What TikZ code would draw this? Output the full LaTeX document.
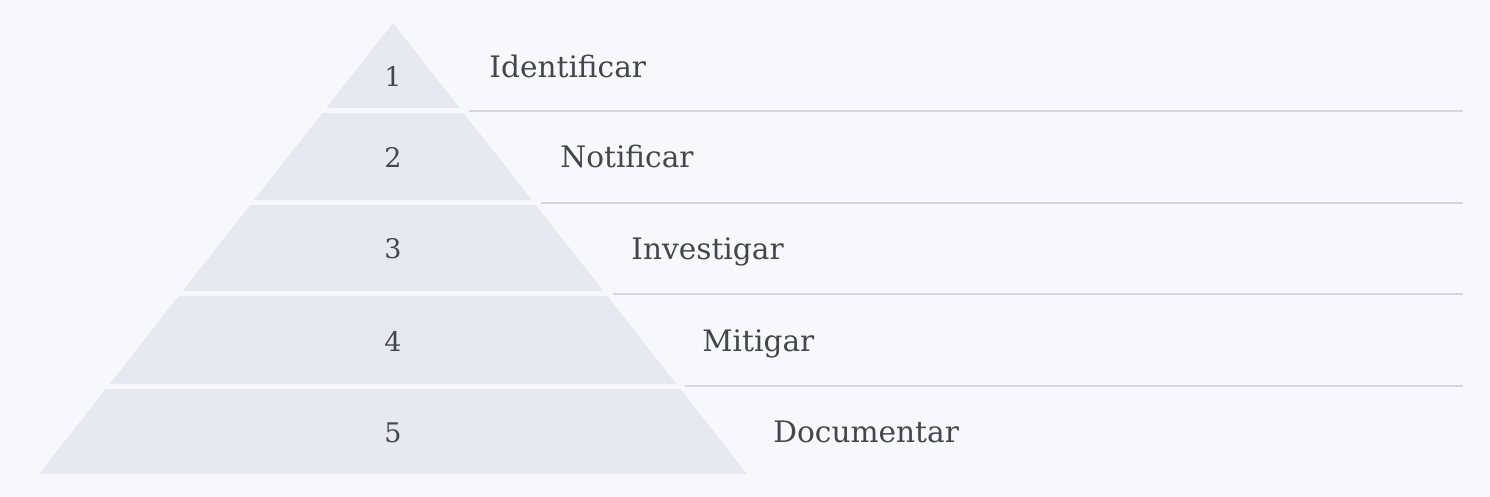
\documentclass[tikz,border=0pt]{standalone}
\usepackage{fontspec}
\setmainfont{DejaVu Serif}
\definecolor{bgcol}{HTML}{F8F8FC}
\definecolor{bandcol}{HTML}{E8E8F1}
\definecolor{rulecol}{HTML}{D6D6DE}
\definecolor{txtcol}{HTML}{45454F}
\begin{document}
\begin{tikzpicture}[x=0.5pt, y=-0.5pt,
    num/.style={anchor=base, inner sep=0pt, text=txtcol, font=\fontsize{13.5}{15}\selectfont},
    lbl/.style={anchor=base west, inner sep=0pt, text=txtcol, font=\fontsize{14.8}{16}\selectfont}]

    % background
    \fill[bgcol] (0,0) rectangle (1490,497);

    % pyramid, cut into five bands
    \fill[bandcol] (393,23) -- (747,474) -- (39,474) -- cycle;
    \draw[bgcol, line width=2.5pt] (20,111) -- (770,111) (20,203) -- (770,203) (20,294) -- (770,294) (20,386.5) -- (770,386.5);

    % rules to the right
    \draw[rulecol, line width=1pt] (469,111) -- (1463,111) (541,203) -- (1463,203) (613,294) -- (1463,294) (685,386.5) -- (1463,386.5);

    % numbers
    \node[num] (n1) at (393,87) {1};
    \node[num] (n2) at (393,168) {2};
    \node[num] (n3) at (393,259) {3};
    \node[num] (n4) at (393,352) {4};
    \node[num] (n5) at (393,443) {5};

    % steps
    \node[lbl] (l1) at (489,78) {Identificar};
    \node[lbl] (l2) at (560,168) {Notificar};
    \node[lbl] (l3) at (631,260) {Investigar};
    \node[lbl] (l4) at (702,352) {Mitigar};
    \node[lbl] (l5) at (773,443) {Documentar};

\end{tikzpicture}
\end{document}
